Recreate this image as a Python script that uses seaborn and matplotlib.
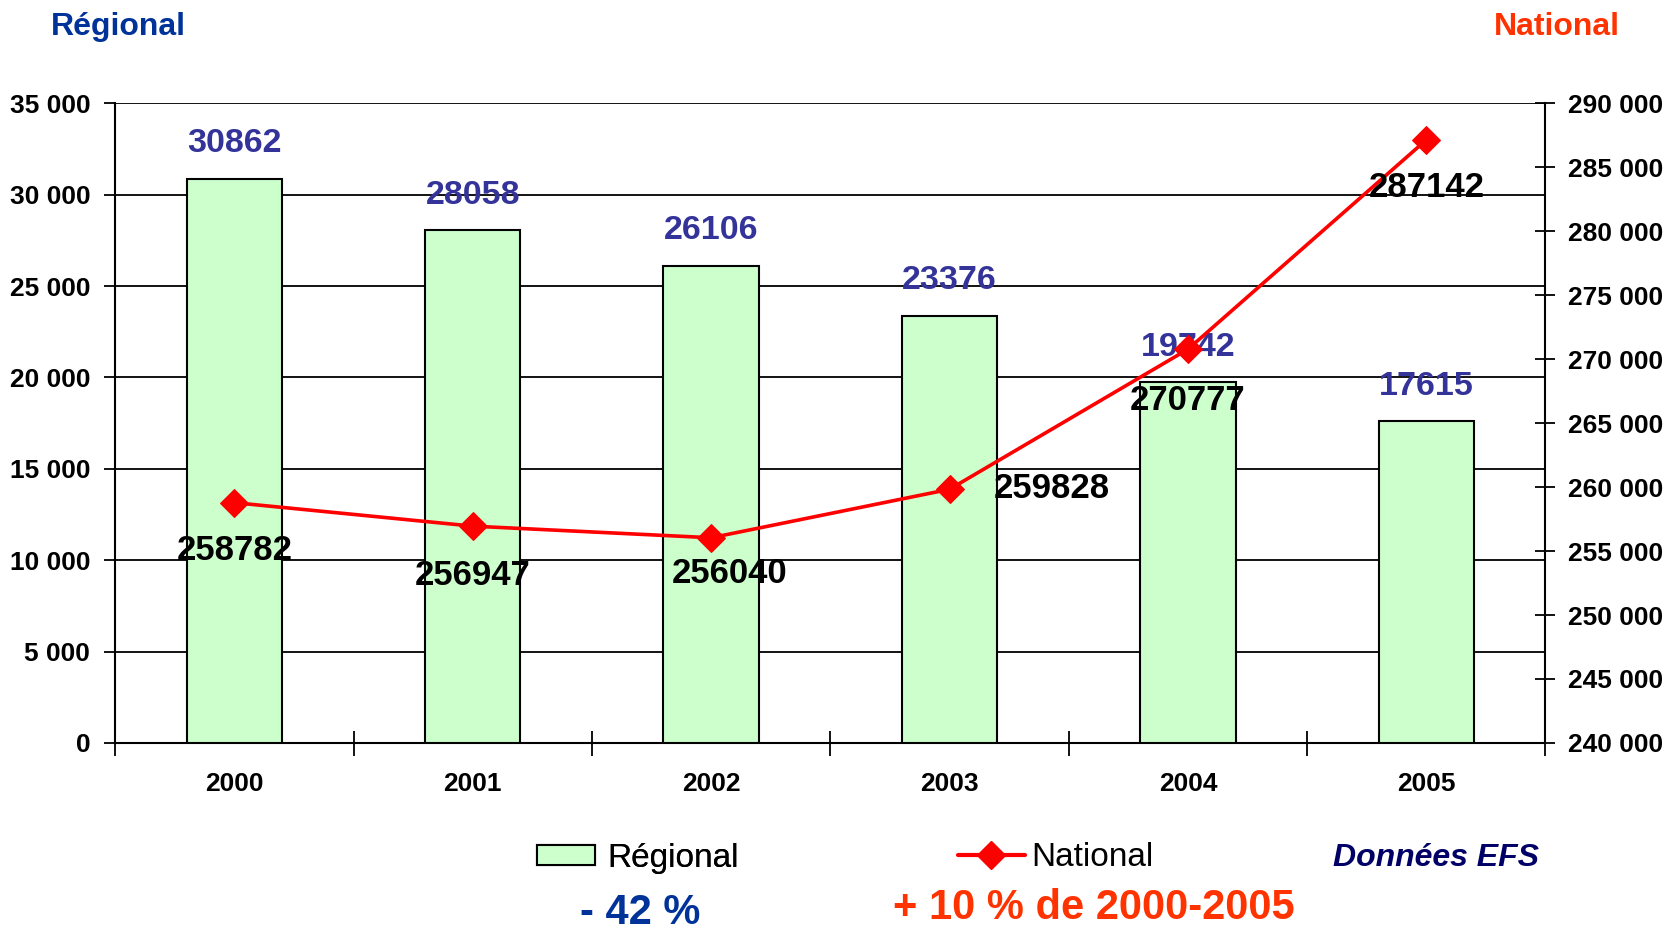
import numpy as np
import pandas as pd
import matplotlib
matplotlib.use("Agg")
import matplotlib.pyplot as plt
import seaborn as sns
from matplotlib.lines import Line2D
from matplotlib.patches import Patch

# data
years = ["2000", "2001", "2002", "2003", "2004", "2005"]
regional = [30862, 28058, 26106, 23376, 19742, 17615]
national = [258782, 256947, 256040, 259828, 270777, 287142]

left_ticks = list(range(0, 35001, 5000))
right_ticks = list(range(240000, 290001, 5000))

df = pd.DataFrame({"annee": years, "regional": regional, "national": national})

sns.set_theme(style="white")
plt.rcParams["font.family"] = ["Liberation Sans", "DejaVu Sans"]
plt.rcParams["text.color"] = "black"
plt.rcParams["xtick.color"] = "black"
plt.rcParams["ytick.color"] = "black"
plt.rcParams["xtick.labelcolor"] = "black"
plt.rcParams["ytick.labelcolor"] = "black"
plt.rcParams["legend.labelcolor"] = "black"

def fmt(v):
    return f"{v:,}".replace(",", " ")

fig = plt.figure(figsize=(16.69, 9.31), dpi=100)
ax = fig.add_axes([0.069, 0.202, 0.857, 0.687])

sns.barplot(data=df, x="annee", y="regional", color="#CCFFCC", saturation=1,
            edgecolor="black", linewidth=1.5, width=0.4, ax=ax, zorder=3)
ax.set_xlim(-0.5, len(years) - 0.5)
ax.set_ylim(0, 35000)
ax.set_yticks(left_ticks)
ax.set_yticklabels([fmt(t) for t in left_ticks], fontsize=19, fontweight="bold")
ax.yaxis.grid(True, color="black", linewidth=1.3)
ax.set_axisbelow(True)
ax.tick_params(axis="y", direction="out", length=8, width=1.3, color="black", pad=10, left=True)
ax.set_xlabel("")
ax.set_ylabel("")
ax.set_xticks(range(len(years)))
ax.set_xticklabels(years, fontsize=19, fontweight="bold")
ax.tick_params(axis="x", length=0, pad=21)
ax.set_xticks(np.arange(-0.5, len(years), 1.0), minor=True)
ax.tick_params(axis="x", which="minor", direction="inout", length=18, width=1.3,
               color="black", bottom=True)
for s in ["left", "bottom"]:
    ax.spines[s].set_color("black")
    ax.spines[s].set_linewidth(1.5)
ax.spines["top"].set_visible(False)
ax.spines["right"].set_visible(False)

for i, v in enumerate(regional):
    ax.annotate(str(v), (i, v), xytext=(0, 35), textcoords="offset pixels",
                ha="center", va="center", fontsize=24.5, fontweight="bold",
                color="#333399", zorder=6)

ax2 = ax.twinx()
sns.lineplot(x=list(range(len(years))), y=national, color="red", linewidth=2.6,
             marker="D", markersize=14, markeredgecolor="red", ax=ax2, zorder=5)
ax2.set_ylim(240000, 290000)
ax2.set_yticks(right_ticks)
ax2.set_yticklabels([fmt(t) for t in right_ticks], fontsize=19, fontweight="bold")
ax2.tick_params(axis="y", direction="inout", length=15, width=1.3, color="black",
                pad=9, right=True)
ax2.set_ylabel("")
for s in ["top", "left", "bottom"]:
    ax2.spines[s].set_visible(False)
ax2.spines["right"].set_color("black")
ax2.spines["right"].set_linewidth(1.5)
ax2.grid(False)

label_offsets = [(0, -48), (0, -49), (18, -36), (102, 1), (0, -51), (0, -48)]
for i, (v, off) in enumerate(zip(national, label_offsets)):
    ax2.annotate(str(v), (i, v), xytext=off, textcoords="offset pixels",
                 ha="center", va="center", fontsize=25, fontweight="bold",
                 color="black", zorder=7)

# titles over the axes
fig.text(51 / 1669, 1 - 27 / 931, "Régional", fontsize=23, fontweight="bold",
         color="#003399", ha="left", va="center")
fig.text(1620 / 1669, 1 - 27 / 931, "National", fontsize=23, fontweight="bold",
         color="#FF3300", ha="right", va="center")

# legend, two entries placed separately
h_reg = Patch(facecolor="#CCFFCC", edgecolor="black", linewidth=1.5)
h_nat = Line2D([], [], color="red", linewidth=3, marker="D", markersize=14)
leg1 = fig.legend([h_reg], ["Régional"], loc="center left",
                  bbox_to_anchor=(537 / 1669, 1 - 858 / 931), frameon=False,
                  prop={"size": 24}, handlelength=1.75, handleheight=0.55,
                  handletextpad=0.35, borderpad=0, borderaxespad=0,
                  labelcolor="black")
leg2 = fig.legend([h_nat], ["National"], loc="center left",
                  bbox_to_anchor=(958 / 1669, 1 - 858 / 931), frameon=False,
                  prop={"size": 24}, handlelength=2.0, handletextpad=0.2,
                  borderpad=0, borderaxespad=0, labelcolor="black")
fig.add_artist(leg1)

fig.text(1333 / 1669, 1 - 858 / 931, "Données EFS", fontsize=23, fontweight="bold",
         fontstyle="italic", color="#000066", ha="left", va="center")
fig.text(640 / 1669, 1 - 913 / 931, "- 42 %", fontsize=30, fontweight="bold",
         color="#003399", ha="center", va="center")
fig.text(1094 / 1669, 1 - 908 / 931, "+ 10 % de 2000-2005", fontsize=30,
         fontweight="bold", color="#FF3300", ha="center", va="center")

fig.savefig("out.png", dpi=100, facecolor="white")
